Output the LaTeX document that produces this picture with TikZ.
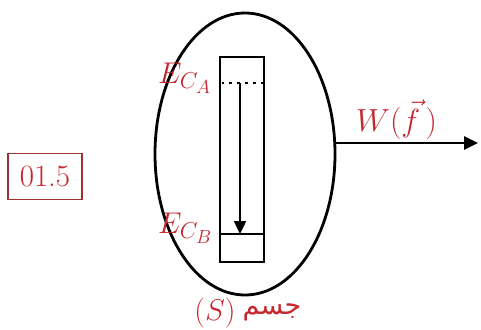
\RequirePackage{fix-cm}
\documentclass[tikz,border=0pt]{standalone}
\usepackage{fontspec}
\usetikzlibrary{shapes.geometric,arrows.meta}
\newfontfamily\arabicfont[Script=Arabic]{DejaVu Sans}
\TeXXeTstate=1
\newcommand{\myEC}[1]{$E_{\hbox{\fontsize{23}{23}\selectfont$C_{\hbox{\fontsize{19}{19}\selectfont$#1$}}$}}$}
\definecolor{lblred}{RGB}{196,40,48}
\definecolor{boxred}{RGB}{160,50,50}
\tikzset{
  thk/.style={line width=2.8pt},
  lbl/.style={text=lblred, inner sep=0pt, font=\fontsize{30}{36}\selectfont},
}
\begin{document}
\begin{tikzpicture}[x=1pt,y=-1pt]
\useasboundingbox (0,0) rectangle (481,329);
\node[draw, thk, ellipse, minimum width=180pt, minimum height=282pt, inner sep=0pt] (S) at (245,154) {};
\node[draw, thk, rectangle, minimum width=44pt, minimum height=205pt, inner sep=0pt] (tube) at (242,159.5) {};
\coordinate (A) at (240,83);
\coordinate (B) at (240,234);
\draw[thk, dash pattern=on 2.8pt off 5pt] (tube.west |- A) ++(3,0) -- (tube.east |- A);
\draw[thk] (tube.west |- B) -- (tube.east |- B);
\draw[line width=2.4pt, -{Triangle[length=13pt,width=12pt]}] (A) -- (B);
\coordinate (W) at (478,143);
\draw[thk, -{Triangle[length=14pt,width=13pt]}] (S.east |- W) -- (W);
\node[lbl, anchor=base west] (EA) at (158,83) {\myEC{A}};
\node[lbl, anchor=base west] (EB) at (158,233) {\myEC{B}};
\node[lbl, anchor=base west, font=\fontsize{32}{38}\selectfont] (Wf) at (356,131) {$W(\vec{f}\,)$};
\node[draw=boxred, line width=1.4pt, text=lblred, inner sep=2pt, minimum width=74pt, minimum height=46pt, font=\fontsize{31}{34}\selectfont] (val) at (45,176.5) {01.5};
\node[lbl] (Sname) at (215,313) {$(S)$};
\node[text=lblred, inner sep=0pt, font=\arabicfont\fontsize{27}{32}\selectfont] (jism) at (272,312) {\beginR جسم\endR};
\end{tikzpicture}
\end{document}
